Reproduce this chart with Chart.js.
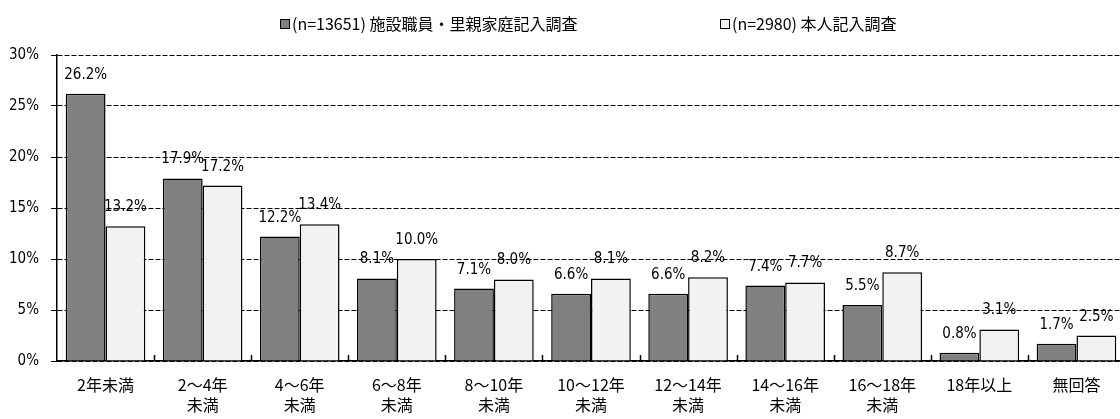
<!DOCTYPE html>
<html>
<head>
<meta charset="utf-8">
<script src="https://cdn.jsdelivr.net/npm/chart.js@4/dist/chart.umd.min.js"></script>
<style>
  html, body { margin: 0; padding: 0; background: #fff; overflow: hidden; }
  #wrap { width: 1125px; height: 419px; position: relative; }
</style>
</head>
<body>
<div id="wrap"><canvas id="c"></canvas></div>
<script>
// --- データ ---
const categories = [
  ['2年未満'], ['2～4年', '未満'], ['4～6年', '未満'], ['6～8年', '未満'],
  ['8～10年', '未満'], ['10～12年', '未満'], ['12～14年', '未満'],
  ['14～16年', '未満'], ['16～18年', '未満'], ['18年以上'], ['無回答']
];
const staffLabel = '(n=13651) 施設職員・里親家庭記入調査';
const selfLabel  = '(n=2980) 本人記入調査';
const staffValues = [26.2, 17.9, 12.2, 8.1, 7.1, 6.6, 6.6, 7.4, 5.5, 0.8, 1.7];
const selfValues  = [13.2, 17.2, 13.4, 10.0, 8.0, 8.1, 8.2, 7.7, 8.7, 3.1, 2.5];
const yTicks = [0, 5, 10, 15, 20, 25, 30];

const FONT_JP = "'Noto Sans CJK JP', 'Noto Sans', sans-serif";
const FONT_NUM = "'Liberation Sans Narrow', 'Arial Narrow', 'DejaVu Sans Condensed', 'Noto Sans CJK JP', sans-serif";

// 棒の上に値ラベル
const valueLabels = {
  id: 'valueLabels',
  afterDatasetsDraw(chart) {
    const ctx = chart.ctx;
    ctx.save();
    ctx.font = '15px ' + FONT_NUM;
    ctx.fillStyle = '#000';
    ctx.textAlign = 'center';
    ctx.textBaseline = 'alphabetic';
    chart.data.datasets.forEach((ds, di) => {
      chart.getDatasetMeta(di).data.forEach((bar, i) => {
        ctx.fillText(ds.data[i].toFixed(1) + '%', bar.x, bar.y - 15);
      });
    });
    ctx.restore();
  }
};

// x軸の区切り目盛り（内向き）
const innerTicks = {
  id: 'innerTicks',
  afterDraw(chart) {
    const sx = chart.scales.x;
    const bottom = chart.chartArea.bottom;
    const n = sx.ticks.length;
    const step = sx.width / n;
    const ctx = chart.ctx;
    ctx.save();
    ctx.strokeStyle = '#000';
    ctx.lineWidth = 1.5;
    for (let i = 1; i < n; i++) {
      const px = Math.round(sx.left + step * i) + 0.5;
      ctx.beginPath();
      ctx.moveTo(px, bottom);
      ctx.lineTo(px, bottom - 6);
      ctx.stroke();
    }
    ctx.restore();
  }
};

// 凡例（上部、項目間を広めに）
const legendStarts = [280, 720];
const topLegend = {
  id: 'topLegend',
  afterDraw(chart) {
    const ctx = chart.ctx;
    ctx.save();
    ctx.font = '16px ' + FONT_JP;
    ctx.textBaseline = 'middle';
    const box = 10, y = 24;
    chart.data.datasets.forEach((ds, i) => {
      const x = legendStarts[i];
      ctx.fillStyle = ds.backgroundColor;
      ctx.fillRect(x, y - box / 2, box, box);
      ctx.strokeStyle = '#000';
      ctx.lineWidth = 1;
      ctx.strokeRect(x + 0.5, y - box / 2 + 0.5, box - 1, box - 1);
      ctx.fillStyle = '#000';
      ctx.fillText(ds.label, x + box + 2, y);
    });
    ctx.restore();
  }
};

new Chart(document.getElementById('c'), {
  type: 'bar',
  data: {
    labels: categories,
    datasets: [
      {
        label: staffLabel,
        data: staffValues,
        backgroundColor: '#808080',
        borderColor: '#000',
        borderWidth: 1.5,
        categoryPercentage: 0.82,
        barPercentage: 1
      },
      {
        label: selfLabel,
        data: selfValues,
        backgroundColor: '#f2f2f2',
        borderColor: '#000',
        borderWidth: 1.5,
        categoryPercentage: 0.82,
        barPercentage: 1
      }
    ]
  },
  options: {
    responsive: true,
    maintainAspectRatio: false,
    animation: false,
    layout: { padding: { top: 55, left: 0, right: 0, bottom: 0 } },
    plugins: {
      legend: { display: false },
      tooltip: { enabled: false }
    },
    scales: {
      x: {
        offset: true,
        grid: { display: false, drawTicks: false },
        border: { display: true, color: '#000', width: 1.5 },
        ticks: {
          color: '#000',
          font: { family: FONT_JP, size: 16, lineHeight: 1.25 },
          padding: 14,
          maxRotation: 0,
          autoSkip: false
        },
        afterFit(s) { s.height = 58; }
      },
      y: {
        min: 0,
        max: 30,
        afterBuildTicks(s) { s.ticks = yTicks.map(v => ({ value: v })); },
        grid: {
          color: '#000',
          lineWidth: 1,
          tickBorderDash: [],
          tickLength: 6,
          drawTicks: true
        },
        border: { display: true, color: '#000', width: 1.5, dash: [5, 2] },
        ticks: {
          color: '#000',
          font: { family: FONT_NUM, size: 15 },
          padding: 12,
          callback: v => v + '%'
        },
        afterFit(s) { s.width = 57; }
      }
    }
  },
  plugins: [valueLabels, innerTicks, topLegend]
});
</script>
</body>
</html>
